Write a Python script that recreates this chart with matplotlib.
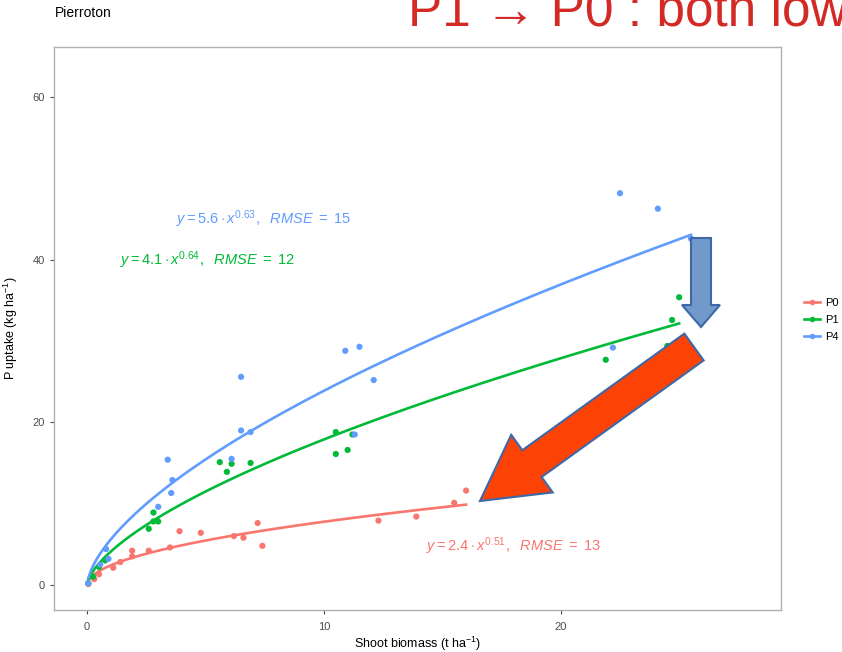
import numpy as np
import matplotlib
matplotlib.use("Agg")
import matplotlib.pyplot as plt
from matplotlib.lines import Line2D
from matplotlib.patches import Polygon

plt.rcParams['font.family'] = ['Liberation Sans', 'DejaVu Sans']
plt.rcParams['mathtext.fontset'] = 'custom'
plt.rcParams['mathtext.rm'] = 'Liberation Sans'
plt.rcParams['mathtext.it'] = 'Liberation Sans:italic'

# shoot biomass (t/ha) and P uptake (kg/ha) per treatment
p0_x = [0.05, 0.3, 0.5, 1.1, 1.4, 1.9, 1.9, 2.6, 3.5, 3.9, 4.8, 6.2, 6.6, 7.2, 7.4,
        12.3, 13.9, 15.5, 16.0]
p0_y = [0.1, 0.7, 1.3, 2.1, 2.8, 3.5, 4.2, 4.2, 4.6, 6.6, 6.4, 6.0, 5.8, 7.6, 4.8,
        7.9, 8.4, 10.1, 11.6]
p1_x = [0.05, 0.25, 0.5, 0.76, 2.6, 2.8, 2.8, 3.0, 5.6, 5.9, 6.1, 6.9, 10.5, 10.5,
        11.0, 11.2, 21.9, 24.5, 24.7, 25.0]
p1_y = [0.2, 1.0, 2.2, 3.0, 6.9, 8.9, 7.8, 7.8, 15.1, 13.9, 14.9, 15.0, 18.8, 16.1,
        16.6, 18.5, 27.7, 29.4, 32.6, 35.4]
p4_x = [0.05, 0.55, 0.8, 0.9, 3.0, 3.4, 3.55, 3.6, 6.1, 6.5, 6.5, 6.9, 10.9, 11.3,
        11.5, 12.1, 22.2, 22.5, 24.1, 25.5]
p4_y = [0.2, 2.5, 4.4, 3.2, 9.6, 15.4, 11.3, 12.9, 15.5, 25.6, 19.0, 18.8, 28.8, 18.5,
        29.3, 25.2, 29.2, 48.2, 46.3, 42.6]

# power-law fits y = a * x^b with their RMSE
fits = {
    'P0': (2.4, 0.51, 13),
    'P1': (4.1, 0.64, 12),
    'P4': (5.6, 0.63, 15),
}
colors = {'P0': '#F8766D', 'P1': '#00BA38', 'P4': '#619CFF'}
groups = [('P0', p0_x, p0_y), ('P1', p1_x, p1_y), ('P4', p4_x, p4_y)]
label_pos = {'P0': (18.0, 4.7), 'P1': (5.1, 39.9), 'P4': (7.45, 45.0)}

fig = plt.figure(figsize=(8.42, 6.52), dpi=100)
ax = fig.add_axes([54 / 842, 1 - 610 / 652, (781 - 54) / 842, (610 - 47) / 652])

for name, xs, ys in groups:
    a, b, rmse = fits[name]
    c = colors[name]
    ax.scatter(xs, ys, s=20, color=c, edgecolors='none', zorder=3)
    xx = np.linspace(min(xs), max(xs), 200)
    ax.plot(xx, a * xx ** b, color=c, lw=1.9, zorder=2)
    tx, ty = label_pos[name]
    ax.text(tx, ty, r"$y = %.1f \cdot x^{%.2f},\ \ RMSE\ =\ %d$" % (a, b, rmse),
            color=c, fontsize=10.5, ha='center', va='center')

ax.set_xlim(-1.4, 29.3)
ax.set_ylim(-3.1, 66.2)
ax.set_xticks([0, 10, 20])
ax.set_yticks([0, 20, 40, 60])
for sp in ax.spines.values():
    sp.set_color('#b0b0b0')
    sp.set_linewidth(1.0)
ax.tick_params(colors='#4d4d4d', labelsize=8, length=3, width=0.8)
ax.tick_params(axis='x', pad=6)

ax.set_xlabel(r"Shoot biomass (t ha$^{-1}$)", fontsize=9, labelpad=2)
ax.set_ylabel(r"P uptake (kg ha$^{-1}$)", fontsize=9)
ax.yaxis.set_label_coords(-0.047, 0.5)
fig.text(55 / 842, 1 - 13 / 652, "Pierroton", fontsize=10, va='center', ha='left')

# legend to the right of the panel
handles = [Line2D([], [], color=colors[n], lw=1.9, marker='o', markersize=4,
                  markeredgewidth=0) for n, _, _ in groups]
fig.legend(handles, [n for n, _, _ in groups], loc='center left',
           bbox_to_anchor=(794 / 842, 1 - 320 / 652), frameon=False, fontsize=8,
           handlelength=1.4, handletextpad=0.5, labelspacing=0.6)

fig.text(408 / 842, 1 - 25 / 652, "P1 \u2192 P0 : both low", color='#d42a26',
         fontsize=37, ha='left', va='baseline')


def block_arrow(tip, tail, shaft_w, head_w, head_len, face, edge):
    tip = np.array(tip, float)
    tail = np.array(tail, float)
    d = tip - tail
    d /= np.hypot(*d)
    n = np.array([-d[1], d[0]])
    base = tip - d * head_len
    pts = [tail + n * shaft_w / 2, base + n * shaft_w / 2, base + n * head_w / 2, tip,
           base - n * head_w / 2, base - n * shaft_w / 2, tail - n * shaft_w / 2]
    pts = [(p[0] / 842, 1 - p[1] / 652) for p in pts]
    fig.add_artist(Polygon(pts, closed=True, facecolor=face, edgecolor=edge,
                           lw=1.5, transform=fig.transFigure, zorder=10))


block_arrow((701, 327), (701, 238), 20, 38, 22, '#7199cc', '#3d68a8')
block_arrow((480, 501), (694, 347), 33, 71, 64, '#fc4305', '#3d68a8')

fig.savefig("out.png", dpi=100)
